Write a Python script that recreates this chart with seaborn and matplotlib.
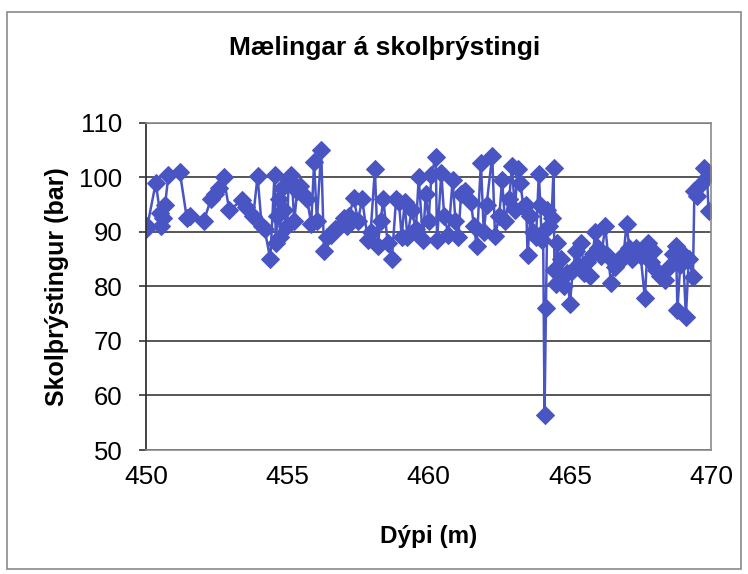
import numpy as np
import pandas as pd
import seaborn as sns
import matplotlib.pyplot as plt
from matplotlib.patches import Rectangle

# dypi (m) og skolthrystingur (bar), lesid af myndinni
dypi = [
    450.00, 450.05, 450.35, 450.50, 450.55, 450.62, 450.68, 450.80, 451.20, 451.45,
    451.55, 452.05, 452.30, 452.45, 452.60, 452.75, 452.95, 453.40, 453.55, 453.80,
    453.95, 454.10, 454.20, 454.40, 454.55, 454.60, 454.65, 454.70, 454.75, 454.80,
    454.90, 455.00, 455.05, 455.15, 455.25, 455.35, 455.45, 455.55, 455.70, 455.85,
    455.95, 456.05, 456.20, 456.30, 456.40, 456.55, 456.70, 456.85, 457.00, 457.10,
    457.20, 457.35, 457.50, 457.65, 457.85, 457.95, 458.10, 458.20, 458.30, 458.40,
    458.55, 458.70, 458.85, 458.95, 459.05, 459.15, 459.25, 459.40, 459.55, 459.65,
    459.80, 459.90, 460.00, 460.10, 460.25, 460.30, 460.45, 460.55, 460.70, 460.85,
    460.95, 461.05, 461.15, 461.30, 461.50, 461.60, 461.70, 461.85, 461.95, 462.05,
    462.25, 462.35, 462.50, 462.60, 462.70, 462.85, 462.95, 463.05, 463.15, 463.25,
    463.35, 463.45, 463.50, 463.60, 463.70, 463.80, 463.90, 463.95, 464.00, 464.05,
    464.10, 464.15, 464.20, 464.25, 464.35, 464.42, 464.45, 464.50, 464.55, 464.60,
    464.70, 464.80, 464.90, 465.00, 465.10, 465.20, 465.30, 465.40, 465.50, 465.60,
    465.70, 465.80, 465.90, 466.00, 466.10, 466.25, 466.35, 466.45, 466.60, 466.75,
    466.90, 467.00, 467.10, 467.20, 467.35, 467.50, 467.65, 467.75, 467.85, 467.95,
    468.05, 468.20, 468.35, 468.50, 468.65, 468.75, 468.80, 468.90, 469.00, 469.10,
    469.20, 469.35, 469.40, 469.50, 469.60, 469.75, 469.85, 469.90,
]
thrystingur = [
    90.5, 91.0, 99.0, 93.5, 91.0, 92.5, 95.0, 100.5, 101.0, 92.5,
    93.0, 92.0, 96.0, 97.0, 98.0, 100.0, 94.0, 95.8, 94.5, 93.0,
    100.2, 91.0, 90.5, 85.0, 100.5, 88.0, 93.0, 96.0, 89.0, 98.0,
    94.0, 91.0, 99.5, 100.5, 92.0, 97.5, 98.5, 97.0, 96.0, 91.5,
    102.8, 92.0, 105.0, 86.5, 89.0, 89.5, 90.5, 91.0, 92.5, 91.0,
    93.0, 96.3, 92.0, 96.0, 88.5, 90.0, 101.5, 87.5, 92.0, 96.0,
    88.0, 85.0, 96.0, 95.5, 89.0, 95.5, 89.0, 94.0, 90.5, 100.0,
    88.5, 97.0, 92.0, 100.5, 103.8, 88.5, 100.8, 93.0, 89.5, 99.5,
    92.0, 89.0, 97.0, 97.5, 95.5, 91.0, 87.5, 102.7, 90.0, 95.0,
    104.0, 89.2, 93.0, 99.5, 92.0, 96.0, 102.0, 94.0, 101.5, 99.0,
    94.5, 95.0, 85.8, 93.0, 90.0, 89.0, 100.7, 95.0, 88.5, 90.0,
    56.4, 76.0, 94.0, 91.0, 92.5, 101.8, 83.0, 80.5, 88.0, 81.0,
    85.0, 80.0, 82.5, 76.8, 83.0, 86.5, 84.0, 88.0, 82.5, 84.5,
    82.0, 86.0, 90.0, 87.0, 85.5, 91.0, 85.5, 80.6, 83.5, 84.5,
    86.0, 91.5, 87.0, 85.0, 87.0, 85.5, 77.8, 88.0, 84.5, 86.5,
    83.0, 82.0, 81.2, 83.5, 86.0, 87.5, 75.7, 84.0, 86.0, 74.4,
    85.0, 81.8, 97.5, 96.5, 98.6, 101.8, 100.0, 93.8,
]
x_ticks = [450, 455, 460, 465, 470]
y_ticks = [50, 60, 70, 80, 90, 100, 110]

df = pd.DataFrame({'Dýpi': dypi, 'Þrýstingur': thrystingur})

sns.set_theme(style='white')
plt.rcParams['font.family'] = ['Liberation Sans', 'DejaVu Sans']

blue = '#4a55c4'

fig = plt.figure(figsize=(7.48, 5.74), dpi=100, facecolor='white')
ax = fig.add_axes([0.195, 0.216, 0.756, 0.570])

sns.lineplot(data=df, x='Dýpi', y='Þrýstingur', ax=ax, sort=False, estimator=None,
             color=blue, linewidth=1.8, marker='D', markersize=9,
             markerfacecolor=blue, markeredgecolor=blue)

ax.set_xlim(450, 470)
ax.set_ylim(50, 110)
ax.set_xticks(x_ticks)
ax.set_yticks(y_ticks)
ax.yaxis.grid(True, color='#3a3a3a', linewidth=1.2)
ax.set_axisbelow(True)
for s in ['top', 'right', 'bottom']:
    ax.spines[s].set_color('#8a8a8a')
    ax.spines[s].set_linewidth(1.2)
ax.spines['left'].set_color('#333333')
ax.spines['left'].set_linewidth(1.3)
ax.tick_params(axis='y', left=True, length=5, width=1.2, color='#333333', pad=12,
               labelsize=18.5, labelcolor='black')
ax.tick_params(axis='x', bottom=False, pad=5, labelsize=19, labelcolor='black')

ax.set_xlabel('Dýpi (m)', fontsize=17.5, fontweight='bold', labelpad=26, color='black')
ax.set_ylabel('Skolþrýstingur (bar)', fontsize=18, fontweight='bold', labelpad=7, color='black')
fig.text(0.514, 0.916, 'Mælingar á skolþrýstingi', ha='center', va='center',
         fontsize=19, fontweight='bold', color='black')

# rammi um allt grafid
fig.patches.append(Rectangle((0.009, 0.008), 0.982, 0.971, transform=fig.transFigure,
                             fill=False, edgecolor='#8a8a8a', linewidth=1.2))

fig.savefig('out.png', dpi=100, facecolor='white')
